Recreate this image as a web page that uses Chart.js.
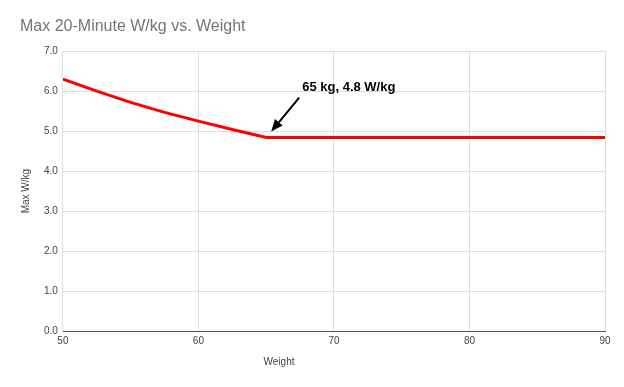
<!DOCTYPE html>
<html>
<head>
<meta charset="utf-8">
<script src="https://cdn.jsdelivr.net/npm/chart.js@4"></script>
<style>
html,body{margin:0;padding:0;background:#fff;}
#wrap{width:624px;height:387px;position:relative;}
</style>
</head>
<body>
<div id="wrap"><canvas id="c" width="624" height="387"></canvas></div>
<script>
const weights = [50, 52.5, 55, 57.5, 60, 62.5, 65, 70, 75, 80, 85, 90];
const wkg     = [6.3, 6.0, 5.72, 5.47, 5.25, 5.04, 4.84, 4.84, 4.84, 4.84, 4.84, 4.84];
const xTicks = [50, 60, 70, 80, 90];
const yTicks = [0, 1, 2, 3, 4, 5, 6, 7];
const chartTitle = "Max 20-Minute W/kg vs. Weight";
const xTitle = "Weight";
const yTitle = "Max W/kg";
const annotationText = "65 kg, 4.8 W/kg";
const annotationPoint = {x: 65, y: 4.84};

const points = weights.map((w, i) => ({x: w, y: wkg[i]}));

const overlay = {
  id: 'overlay',
  afterDraw(chart) {
    const ctx = chart.ctx;
    const xs = chart.scales.x, ys = chart.scales.y;
    const ax = xs.getPixelForValue(annotationPoint.x);
    const ay = ys.getPixelForValue(annotationPoint.y);
    ctx.save();
    // arrow
    const tipX = ax + 5, tipY = ay - 6;
    const tailX = ax + 33, tailY = ay - 40;
    const ang = Math.atan2(tipY - tailY, tipX - tailX);
    const headLen = 12, headW = 5;
    const baseX = tipX - headLen * Math.cos(ang), baseY = tipY - headLen * Math.sin(ang);
    ctx.strokeStyle = '#000';
    ctx.lineWidth = 2;
    ctx.beginPath();
    ctx.moveTo(tailX, tailY);
    ctx.lineTo(baseX, baseY);
    ctx.stroke();
    ctx.fillStyle = '#000';
    ctx.beginPath();
    ctx.moveTo(tipX, tipY);
    ctx.lineTo(baseX + headW * Math.sin(ang), baseY - headW * Math.cos(ang));
    ctx.lineTo(baseX - headW * Math.sin(ang), baseY + headW * Math.cos(ang));
    ctx.closePath();
    ctx.fill();
    // label
    ctx.font = 'bold 13px "Liberation Sans", Arial, sans-serif';
    ctx.textAlign = 'left';
    ctx.textBaseline = 'alphabetic';
    ctx.fillText(annotationText, ax + 36, ay - 47);
    // x axis title
    ctx.font = '10px "Liberation Sans", Arial, sans-serif';
    ctx.fillStyle = '#444';
    ctx.textAlign = 'center';
    ctx.textBaseline = 'middle';
    ctx.fillText(xTitle, 279, 362);
    ctx.restore();
  }
};

new Chart(document.getElementById('c'), {
  type: 'line',
  data: {
    datasets: [{
      data: points,
      borderColor: '#ff0000',
      backgroundColor: '#ff0000',
      borderWidth: 3,
      pointRadius: 0,
      tension: 0,
      fill: false
    }]
  },
  options: {
    responsive: false,
    animation: false,
    layout: {padding: {left: 20, right: 19, top: 0, bottom: 36}},
    plugins: {
      legend: {display: false},
      tooltip: {enabled: false},
      title: {
        display: true,
        text: chartTitle,
        align: 'start',
        color: '#757575',
        font: {family: '"Liberation Sans", Arial, sans-serif', size: 16, weight: 'normal'},
        padding: {top: 17, bottom: 15}
      }
    },
    scales: {
      x: {
        type: 'linear',
        min: 50, max: 90,
        afterBuildTicks(s) { s.ticks = xTicks.map(v => ({value: v})); },
        ticks: {
          color: '#444',
          font: {family: '"Liberation Sans", Arial, sans-serif', size: 10},
          padding: 4,
          maxRotation: 0,
          callback: v => String(v)
        },
        grid: {color: '#dddddd', lineWidth: 1, drawTicks: false},
        border: {color: '#555', width: 1}
      },
      y: {
        min: 0, max: 7,
        afterBuildTicks(s) { s.ticks = yTicks.map(v => ({value: v})); },
        ticks: {
          color: '#444',
          font: {family: '"Liberation Sans", Arial, sans-serif', size: 10},
          padding: 5,
          callback: v => Number(v).toFixed(1)
        },
        grid: {color: '#dddddd', lineWidth: 1, drawTicks: false},
        border: {color: '#dddddd', width: 1},
        title: {
          display: true,
          text: yTitle,
          color: '#444',
          font: {family: '"Liberation Sans", Arial, sans-serif', size: 10},
          padding: {top: 0, bottom: 7}
        }
      }
    }
  },
  plugins: [overlay]
});
</script>
</body>
</html>
